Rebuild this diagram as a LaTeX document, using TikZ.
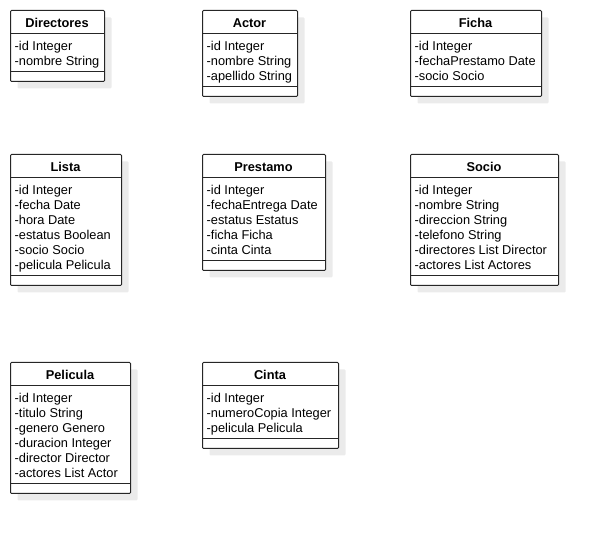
\documentclass[tikz,border=0pt]{standalone}
\usepackage{fontspec}
\setmainfont{Liberation Sans}
\usetikzlibrary{shadows}

\begin{document}
\begin{tikzpicture}
  [x=1pt,y=-1pt,
   umlbox/.style={draw=black!85,line width=1pt,rounded corners=1pt,fill=white,
     anchor=north west,inner sep=0pt,
     drop shadow={shadow xshift=7pt,shadow yshift=-7pt,fill=black!8,opacity=1}},
   umltitle/.style={anchor=base,inner sep=0pt,font=\fontsize{12.8}{15}\selectfont\bfseries},
   umlattr/.style={anchor=north west,inner sep=0pt,align=left,font=\fontsize{12.8}{15}\selectfont},
   umlline/.style={draw=black!85,line width=1pt}]
  \useasboundingbox (0,0) rectangle (598,534);

  % first row
  \node[umlbox,minimum width=94pt,minimum height=71pt] (directores) at (10,10) {};
  \node[umltitle] at (57,27.5) {Directores};
  \node[umlattr] at (14.5,41) {-id Integer\\-nombre String};
  \draw[umlline] (directores.west |- 0,34) -- (directores.east |- 0,34);
  \draw[umlline] (directores.west |- 0,72) -- (directores.east |- 0,72);

  \node[umlbox,minimum width=95pt,minimum height=86pt] (actor) at (202,10) {};
  \node[umltitle] at (249.5,27.5) {Actor};
  \node[umlattr] at (206.5,41) {-id Integer\\-nombre String\\-apellido String};
  \draw[umlline] (actor.west |- 0,34) -- (actor.east |- 0,34);
  \draw[umlline] (actor.west |- 0,87) -- (actor.east |- 0,87);

  \node[umlbox,minimum width=131pt,minimum height=86pt] (ficha) at (410,10) {};
  \node[umltitle] at (475.5,27.5) {Ficha};
  \node[umlattr] at (414.5,41) {-id Integer\\-fechaPrestamo Date\\-socio Socio};
  \draw[umlline] (ficha.west |- 0,34) -- (ficha.east |- 0,34);
  \draw[umlline] (ficha.west |- 0,87) -- (ficha.east |- 0,87);

  % second row
  \node[umlbox,minimum width=111pt,minimum height=131pt] (lista) at (10,154) {};
  \node[umltitle] at (65.5,171.5) {Lista};
  \node[umlattr] at (14.5,185) {-id Integer\\-fecha Date\\-hora Date\\-estatus Boolean\\-socio Socio\\-pelicula Pelicula};
  \draw[umlline] (lista.west |- 0,178) -- (lista.east |- 0,178);
  \draw[umlline] (lista.west |- 0,276) -- (lista.east |- 0,276);

  \node[umlbox,minimum width=123pt,minimum height=116pt] (prestamo) at (202,154) {};
  \node[umltitle] at (263.5,171.5) {Prestamo};
  \node[umlattr] at (206.5,185) {-id Integer\\-fechaEntrega Date\\-estatus Estatus\\-ficha Ficha\\-cinta Cinta};
  \draw[umlline] (prestamo.west |- 0,178) -- (prestamo.east |- 0,178);
  \draw[umlline] (prestamo.west |- 0,261) -- (prestamo.east |- 0,261);

  \node[umlbox,minimum width=148pt,minimum height=131pt] (socio) at (410,154) {};
  \node[umltitle] at (484,171.5) {Socio};
  \node[umlattr] at (414.5,185) {-id Integer\\-nombre String\\-direccion String\\-telefono String\\-directores List Director\\-actores List Actores};
  \draw[umlline] (socio.west |- 0,178) -- (socio.east |- 0,178);
  \draw[umlline] (socio.west |- 0,276) -- (socio.east |- 0,276);

  % third row
  \node[umlbox,minimum width=120pt,minimum height=131pt] (pelicula) at (10,362) {};
  \node[umltitle] at (70,379.5) {Pelicula};
  \node[umlattr] at (14.5,393) {-id Integer\\-titulo String\\-genero Genero\\-duracion Integer\\-director Director\\-actores List Actor};
  \draw[umlline] (pelicula.west |- 0,386) -- (pelicula.east |- 0,386);
  \draw[umlline] (pelicula.west |- 0,484) -- (pelicula.east |- 0,484);

  \node[umlbox,minimum width=136pt,minimum height=86pt] (cinta) at (202,362) {};
  \node[umltitle] at (270,379.5) {Cinta};
  \node[umlattr] at (206.5,393) {-id Integer\\-numeroCopia Integer\\-pelicula Pelicula};
  \draw[umlline] (cinta.west |- 0,386) -- (cinta.east |- 0,386);
  \draw[umlline] (cinta.west |- 0,439) -- (cinta.east |- 0,439);
\end{tikzpicture}
\end{document}
